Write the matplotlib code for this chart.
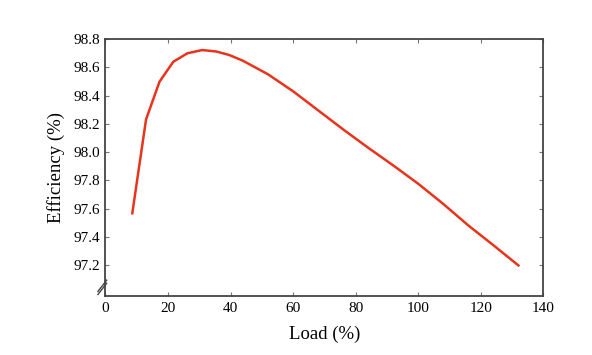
import numpy as np
import matplotlib.pyplot as plt

plt.rcParams['font.family'] = ['Liberation Serif', 'DejaVu Serif']

# ---- data ----
load = [8.6, 13.0, 17.3, 21.7, 26.2, 30.9, 35.4, 39.6, 44.0, 52, 60, 68, 76,
        84, 92, 100, 108, 116, 124, 132]
eff = [97.566, 98.231, 98.498, 98.639, 98.699, 98.722, 98.712, 98.687,
       98.646, 98.55, 98.43, 98.295, 98.16, 98.03, 97.905, 97.775, 97.632,
       97.48, 97.34, 97.197]

xticks = [0, 20, 40, 60, 80, 100, 120, 140]
yticks = [97.2, 97.4, 97.6, 97.8, 98.0, 98.2, 98.4, 98.6, 98.8]

fig = plt.figure(figsize=(5.92, 3.55), dpi=100)
ax = fig.add_axes([0.178, 0.166, 0.740, 0.724])

ax.plot(load, eff, color='#e8341c', linewidth=1.8)

ax.set_xlim(0, 140)
ax.set_ylim(96.98, 98.8)
ax.set_xticks(xticks)
ax.set_yticks(yticks)
ax.set_yticklabels([f"{v:.1f}" for v in yticks])
ax.tick_params(direction='in', top=True, right=True, length=3, width=0.8,
               color='#777777', labelsize=11, pad=4)
for s in ax.spines.values():
    s.set_color('#444444')
    s.set_linewidth(1.3)

ax.set_xlabel("Load (%)", fontsize=13.5, labelpad=8)
ax.set_ylabel("Efficiency (%)", fontsize=13.5, labelpad=6)

# axis break marks on the y-axis
for cy in (0.028, 0.040):
    ax.plot([-0.017, 0.003], [cy - 0.022, cy + 0.022], transform=ax.transAxes,
            color='#444444', linewidth=1.0, clip_on=False)

fig.savefig("out.png", dpi=100)
